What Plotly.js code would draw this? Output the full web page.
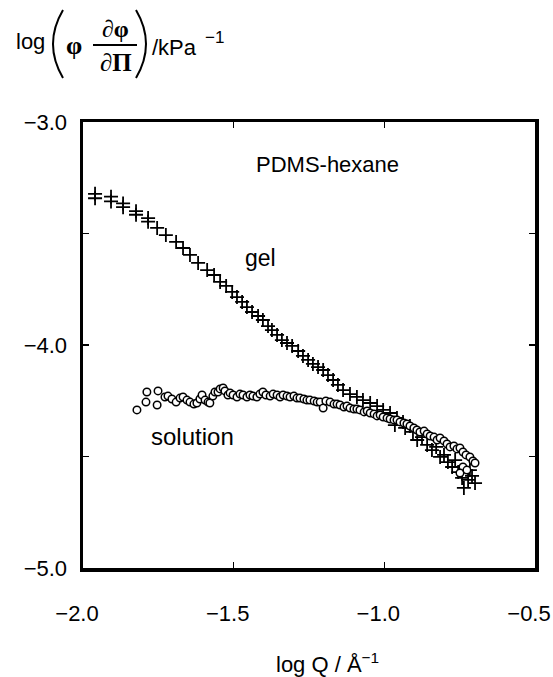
<!DOCTYPE html>
<html><head><meta charset="utf-8">
<script src="https://cdn.plot.ly/plotly-3.0.1.min.js"></script>
<style>html,body{margin:0;padding:0;background:#fff}#chart{width:553px;height:677px}</style>
</head><body><div id="chart"></div>
<script>
// gel (crosses)
const gelX = [-1.960,-1.960,-1.907,-1.907,-1.867,-1.867,-1.824,-1.824,-1.784,-1.784,
  -1.754,-1.725,-1.691,-1.668,-1.645,-1.618,-1.588,-1.565,-1.545,-1.525,
  -1.505,-1.489,-1.472,-1.456,-1.439,-1.419,-1.403,-1.386,-1.373,-1.356,
  -1.340,-1.323,-1.306,-1.286,-1.270,-1.253,-1.237,-1.220,-1.203,-1.187,
  -1.170,-1.154,-1.137,-1.114,-1.091,-1.071,-1.047,-1.024,-1.004,-0.981,
  -0.965,-0.958,-0.938,-0.931,-0.915,-0.905,-0.891,-0.875,-0.858,-0.842,
  -0.828,-0.815,-0.802,-0.789,-0.775,-0.765,-0.755,-0.742,-0.736,-0.722,
  -0.716,-0.709,-0.699];
const gelY = [-3.322,-3.342,-3.335,-3.356,-3.365,-3.382,-3.400,-3.416,-3.431,-3.447,
  -3.475,-3.507,-3.538,-3.565,-3.596,-3.632,-3.664,-3.686,-3.717,-3.735,
  -3.762,-3.785,-3.807,-3.830,-3.852,-3.870,-3.888,-3.915,-3.933,-3.955,
  -3.978,-3.991,-4.004,-4.027,-4.049,-4.067,-4.085,-4.099,-4.112,-4.135,
  -4.157,-4.179,-4.202,-4.220,-4.233,-4.247,-4.260,-4.274,-4.291,-4.305,
  -4.359,-4.327,-4.345,-4.372,-4.363,-4.390,-4.426,-4.413,-4.448,-4.471,
  -4.457,-4.502,-4.493,-4.525,-4.547,-4.516,-4.570,-4.596,-4.641,-4.605,
  -4.561,-4.587,-4.619];
// solution (open circles)
const solX = [-1.821,-1.791,-1.788,-1.754,-1.751,-1.728,-1.718,-1.705,-1.691,-1.678,
  -1.668,-1.655,-1.645,-1.632,-1.622,-1.612,-1.605,-1.595,-1.585,-1.579,
  -1.569,-1.562,-1.552,-1.545,-1.535,-1.529,-1.519,-1.512,-1.502,-1.489,
  -1.479,-1.469,-1.456,-1.446,-1.436,-1.423,-1.413,-1.403,-1.393,-1.379,
  -1.369,-1.356,-1.346,-1.336,-1.323,-1.313,-1.300,-1.290,-1.280,-1.267,
  -1.257,-1.247,-1.233,-1.223,-1.213,-1.203,-1.194,-1.180,-1.167,-1.157,
  -1.147,-1.134,-1.124,-1.114,-1.101,-1.091,-1.081,-1.067,-1.057,-1.047,
  -1.034,-1.024,-1.014,-1.004,-0.991,-0.981,-0.968,-0.958,-0.948,-0.935,
  -0.925,-0.915,-0.902,-0.892,-0.882,-0.868,-0.858,-0.848,-0.835,-0.825,
  -0.815,-0.802,-0.792,-0.782,-0.769,-0.759,-0.749,-0.739,-0.729,-0.716,
  -0.706,-0.699,-0.739,-0.749,-0.726];
const solY = [-4.291,-4.256,-4.211,-4.269,-4.206,-4.233,-4.229,-4.242,-4.256,-4.238,
  -4.233,-4.247,-4.256,-4.265,-4.260,-4.242,-4.224,-4.247,-4.256,-4.260,
  -4.229,-4.211,-4.211,-4.197,-4.193,-4.206,-4.224,-4.215,-4.224,-4.233,
  -4.220,-4.224,-4.233,-4.224,-4.229,-4.233,-4.220,-4.211,-4.224,-4.229,
  -4.220,-4.224,-4.233,-4.224,-4.229,-4.233,-4.229,-4.238,-4.238,-4.242,
  -4.247,-4.247,-4.251,-4.256,-4.256,-4.283,-4.251,-4.256,-4.265,-4.265,
  -4.269,-4.278,-4.274,-4.283,-4.287,-4.287,-4.291,-4.300,-4.296,-4.305,
  -4.309,-4.318,-4.314,-4.323,-4.327,-4.332,-4.336,-4.336,-4.345,-4.350,
  -4.354,-4.363,-4.372,-4.381,-4.390,-4.386,-4.399,-4.408,-4.413,-4.426,
  -4.417,-4.430,-4.444,-4.457,-4.453,-4.466,-4.462,-4.480,-4.493,-4.502,
  -4.520,-4.529,-4.547,-4.574,-4.561];

const xTickVals = [-2, -1.5, -1, -0.5];
const xTickText = ['\u22122.0', '\u22121.5', '\u22121.0', '\u22120.5'];
const yTickVals = [-5, -4, -3];
const yTickText = ['\u22125.0', '\u22124.0', '\u22123.0'];
const yMinorVals = [-4.5, -3.5];

// plot-area geometry (pixels) used only for placing the composed y title
const L = 83, R = 535, T = 122, B = 568;
const px = v => (v - L) / (R - L);
const py = v => (B - v) / (B - T);

const FONT = 'Liberation Sans, Arial, sans-serif';
const SERIF = 'Liberation Serif, Times New Roman, serif';

const traces = [
  {x: gelX, y: gelY, type: 'scatter', mode: 'markers', name: 'gel',
   marker: {symbol: 'cross-thin', size: 10, color: '#000', line: {color: '#000', width: 1.8}}},
  {x: solX, y: solY, type: 'scatter', mode: 'markers', name: 'solution',
   marker: {symbol: 'circle', size: 7.5, color: '#fff', line: {color: '#000', width: 1.5}}}
];

const ann = (text, x, y, size, opts) => Object.assign({
  text, x, y, xref: 'paper', yref: 'paper', showarrow: false,
  font: {family: FONT, size, color: '#000'}, xanchor: 'center', yanchor: 'middle'
}, opts || {});

const layout = {
  width: 553, height: 677,
  margin: {l: L, r: 553 - R, t: T, b: 677 - B},
  paper_bgcolor: '#fff', plot_bgcolor: '#fff',
  showlegend: false,
  font: {family: FONT, size: 22, color: '#000'},
  xaxis: {
    range: [-2, -0.5], tickvals: xTickVals, ticktext: xTickText,
    ticks: 'inside', ticklen: 6, tickwidth: 1.5, tickcolor: '#000',
    showline: true, linewidth: 3.5, linecolor: '#000', mirror: 'ticks',
    showgrid: false, zeroline: false, ticklabelstandoff: 23,
    ticklabelshift: -6, ticklabeloverflow: 'allow',
    tickfont: {family: FONT, size: 22, color: '#000'}
  },
  yaxis: {
    range: [-5, -3], tickvals: yTickVals, ticktext: yTickText,
    ticks: 'inside', ticklen: 6, tickwidth: 1.5, tickcolor: '#000',
    minor: {tickvals: yMinorVals, ticks: 'inside', ticklen: 6, tickwidth: 1.5, tickcolor: '#000', showgrid: false},
    showline: true, linewidth: 3.5, linecolor: '#000', mirror: 'ticks',
    showgrid: false, zeroline: false, ticklabelstandoff: 8,
    ticklabeloverflow: 'allow',
    tickfont: {family: FONT, size: 22, color: '#000'}
  },
  annotations: [
    {text: 'PDMS-hexane', x: -1.19, y: -3.19, xref: 'x', yref: 'y', showarrow: false,
     font: {family: FONT, size: 22, color: '#000'}},
    {text: 'gel', x: -1.41, y: -3.61, xref: 'x', yref: 'y', showarrow: false,
     font: {family: FONT, size: 23, color: '#000'}},
    {text: 'solution', x: -1.635, y: -4.41, xref: 'x', yref: 'y', showarrow: false,
     font: {family: FONT, size: 24, color: '#000'}},
    // x title
    ann('log Q / \u00C5<sup>\u22121</sup>', px(327), py(663), 22),
    // y title pieces
    ann('log', px(14), py(42), 22, {xanchor: 'left'}),
    ann('<b>\u03C6</b>', px(74), py(45), 26, {font: {family: SERIF, size: 26, color: '#000'}}),
    ann('<b>\u2202\u03C6</b>', px(115), py(29), 24, {font: {family: SERIF, size: 24, color: '#000'}}),
    ann('<b>\u2202\u03A0</b>', px(116), py(63), 25, {font: {family: SERIF, size: 25, color: '#000'}}),
    ann('/kPa', px(150), py(47), 22, {xanchor: 'left'}),
    ann('\u22121', px(203), py(38), 17, {xanchor: 'left'})
  ],
  shapes: [
    {type: 'path', xref: 'paper', yref: 'paper', line: {color: '#000', width: 2},
     path: `M ${px(63)},${py(10)} Q ${px(43)},${py(44)} ${px(63)},${py(78)}`},
    {type: 'path', xref: 'paper', yref: 'paper', line: {color: '#000', width: 2},
     path: `M ${px(136)},${py(10)} Q ${px(156)},${py(44)} ${px(136)},${py(78)}`},
    {type: 'line', xref: 'paper', yref: 'paper', line: {color: '#000', width: 2},
     x0: px(93), x1: px(137), y0: py(45), y1: py(45)}
  ]
};

Plotly.newPlot('chart', traces, layout, {staticPlot: true, displayModeBar: false});
</script>
</body></html>
